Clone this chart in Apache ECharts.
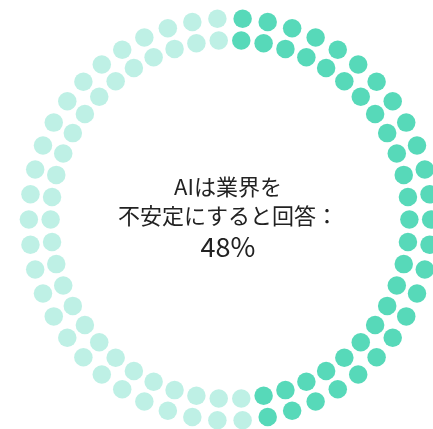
<!DOCTYPE html>
<html>
<head>
<meta charset="utf-8">
<script src="https://cdn.jsdelivr.net/npm/echarts@6/dist/echarts.min.js"></script>
<style>
html,body{margin:0;padding:0;background:#fff;}
#chart{width:433px;height:429px;}
</style>
</head>
<body>
<div id="chart"></div>
<script>
// Data
const labelLines = ['AIは業界を', '不安定にすると回答：'];
const agreePercent = 48;          // share answering "yes"
const totalDots = 100;            // one dot = 1%
const ringNames = ['inner', 'outer'];

// Derived layout of dots: two rings, dots alternate between rings
const ringCount = ringNames.length;
const dotsPerRing = totalDots / ringCount;
const slots = Array.from({length: dotsPerRing}, (_, i) => String(i));

const filled = [], empty = [];
for (let i = 0; i < totalDots; i++) {
  const ring = ringNames[i % ringCount];
  const slot = slots[Math.floor(i / ringCount)];
  (i < agreePercent ? filled : empty).push([ring, slot]);
}

const fontFam = '"Noto Sans CJK JP", "Noto Sans", sans-serif';
const chart = echarts.init(document.getElementById('chart'), null, {renderer: 'canvas'});
chart.setOption({
  animation: false,
  backgroundColor: '#ffffff',
  polar: { center: [230, 219.5], radius: [168.5, 212] },
  angleAxis: {
    type: 'category', data: slots, startAngle: 90, clockwise: true,
    boundaryGap: true,
    axisLine: {show: false}, axisTick: {show: false}, axisLabel: {show: false}, splitLine: {show: false}
  },
  radiusAxis: {
    type: 'category', data: ringNames,
    axisLine: {show: false}, axisTick: {show: false}, axisLabel: {show: false}, splitLine: {show: false}
  },
  series: [
    {
      type: 'scatter', coordinateSystem: 'polar', symbol: 'circle', symbolSize: 18.5,
      itemStyle: {color: '#aeecde'}, data: empty, silent: true
    },
    {
      type: 'scatter', coordinateSystem: 'polar', symbol: 'circle', symbolSize: 18.5,
      itemStyle: {color: '#2dd0a7'}, data: filled, silent: true
    }
  ],
  graphic: [{
    type: 'text',
    x: 228, y: 217.5,
    style: {
      text: labelLines.map(l => '{a|' + l + '}').join('\n') + '\n{b|' + agreePercent + '%}',
      fill: '#222222',
      align: 'center',
      verticalAlign: 'middle',
      rich: {
        a: {fontSize: 22, fontFamily: fontFam, lineHeight: 29.5, fill: '#222222'},
        b: {fontSize: 27, fontFamily: fontFam, lineHeight: 33, fill: '#222222'}
      }
    }
  }]
});
</script>
</body>
</html>
